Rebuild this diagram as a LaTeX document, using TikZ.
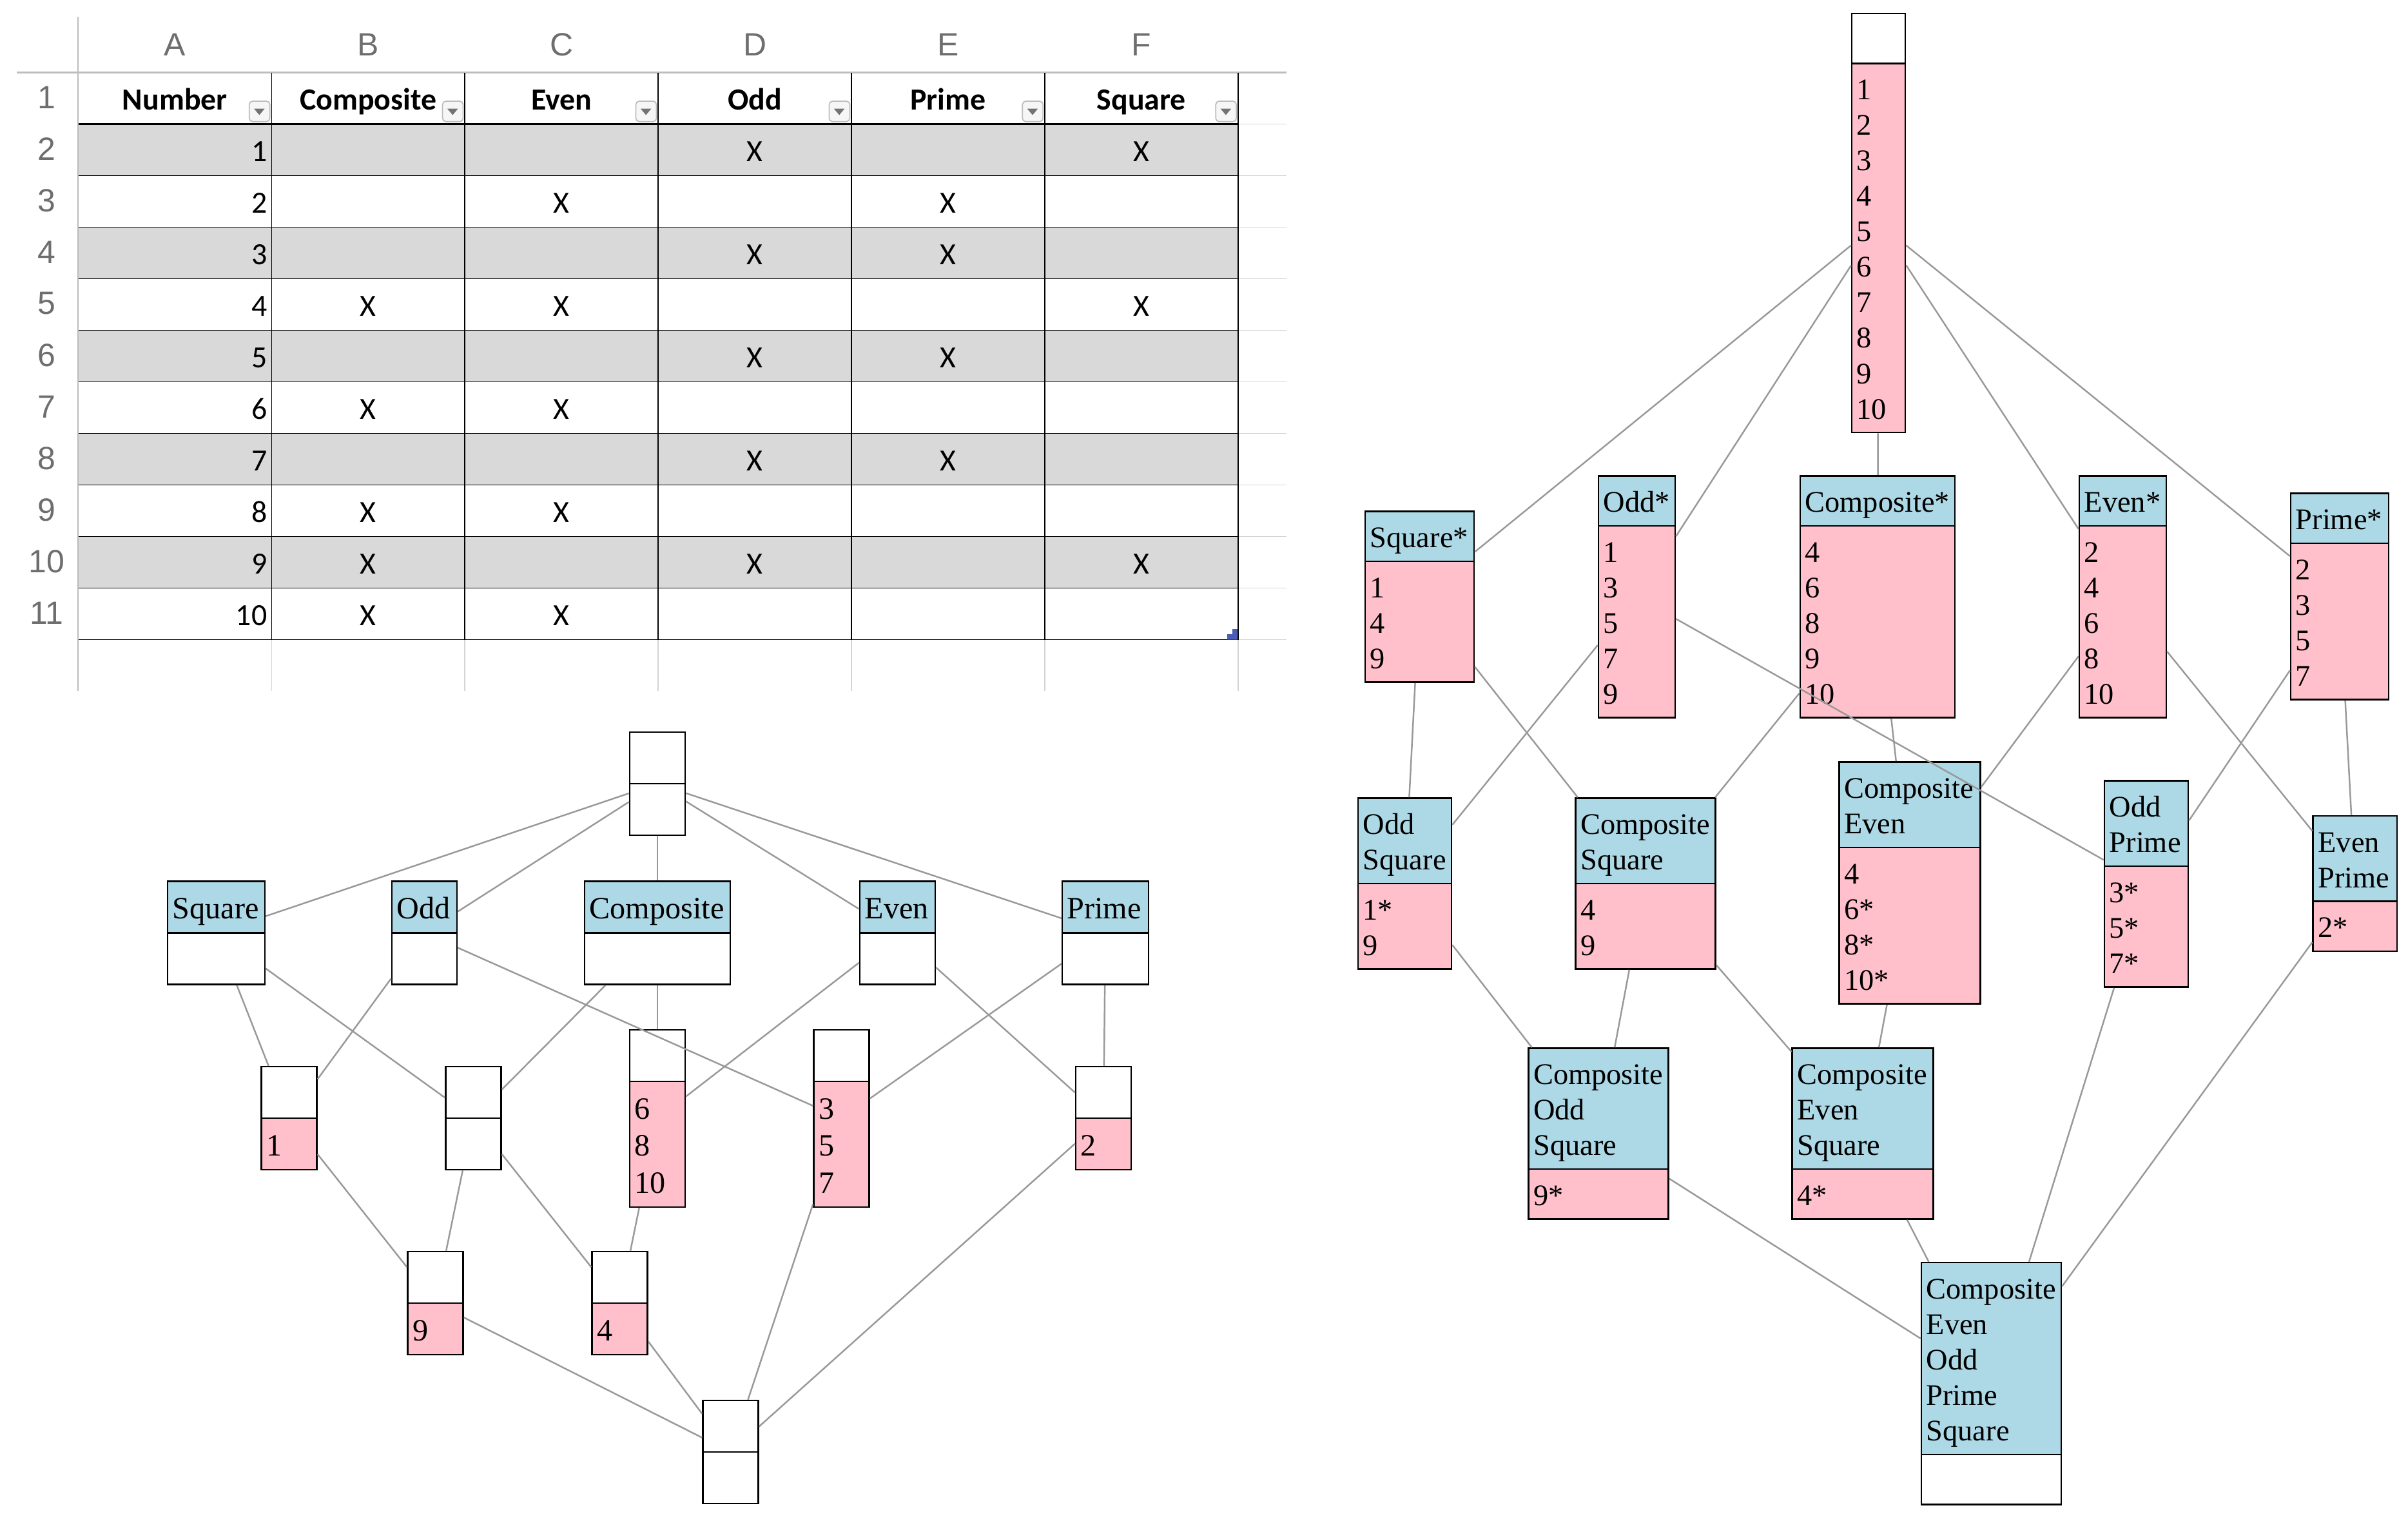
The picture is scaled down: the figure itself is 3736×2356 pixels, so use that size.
\documentclass[tikz,border=0pt]{standalone}
\usepackage{fontspec}
\setmainfont{Liberation Serif}
\newfontfamily\calibri{Carlito}
\newfontfamily\helv{Liberation Sans}
\usetikzlibrary{shapes.multipart}

\definecolor{hdrblue}{HTML}{ADD8E6}
\definecolor{bodypink}{HTML}{FFC0CB}
\definecolor{edgegray}{HTML}{999999}
\definecolor{rowgray}{HTML}{D9D9D9}
\definecolor{gridgray}{HTML}{D4D4D4}
\definecolor{headgray}{HTML}{BDBDBD}
\definecolor{labelgray}{HTML}{6E6E6E}
\definecolor{markblue}{HTML}{4A5CB4}

\newcommand\cells[1]{{\setbox\strutbox\hbox{\vrule height .82\baselineskip depth .18\baselineskip width 0pt}%
  \begin{tabular}{@{}l@{}}\strut#1\end{tabular}}}

\tikzset{
  lattice/.style={rectangle split, rectangle split parts=2, draw, line width=0.7pt,
    inner xsep=2.2pt, inner ysep=2.85pt, rectangle split part align={left,left},
    minimum width=0.86cm},
  lsize/.style={font=\fontsize{13.7}{16.36}\selectfont},
  rsize/.style={font=\fontsize{13.2}{15.65}\selectfont},
  bluepink/.style={rectangle split part fill={hdrblue,bodypink}},
  bluewhite/.style={rectangle split part fill={hdrblue,white}},
  whitepink/.style={rectangle split part fill={white,bodypink}},
  whitewhite/.style={rectangle split part fill={white,white}},
  link/.style={edgegray, line width=0.7pt},
  collabel/.style={text=labelgray, font=\helv\fontsize{14.2}{16}\selectfont, inner sep=0pt},
  hdr/.style={font=\calibri\bfseries\fontsize{13.6}{16}\selectfont, inner sep=0pt},
  cell/.style={font=\calibri\fontsize{13.6}{16}\selectfont, inner sep=0pt},
  btn/.style={draw=headgray, fill=gray!7, line width=0.5pt, rounded corners=1.5pt},
}

\begin{document}
\begin{tikzpicture}[x=0.01cm,y=-0.01cm]
\useasboundingbox (0,0) rectangle (3736,2356);

\fill[rowgray] foreach \r in {1,3,5,7,9} {(121.5,{112.5+80*\r}) rectangle (1920.9,{192.5+80*\r})};
\draw[gridgray, line width=0.5pt] foreach \j in {1,...,11} {(1920.9,{112.5+80*\j}) -- (1996,{112.5+80*\j})};
\draw[gridgray, line width=0.5pt] foreach \i in {1,...,6} {({121.5+299.9*\i},992.5) -- ({121.5+299.9*\i},1072)};
\draw[headgray, line width=0.6pt] (26,112.5) -- (1996,112.5);
\draw[headgray, line width=0.6pt] (121,26) -- (121,1072);
\draw[line width=0.5pt] foreach \j in {2,...,11} {(121.5,{112.5+80*\j}) -- (1920.9,{112.5+80*\j})};
\draw[line width=0.5pt] foreach \i in {1,...,6} {({121.5+299.9*\i},112.5) -- ({121.5+299.9*\i},992.5)};
\draw[line width=1pt] (121.5,192.5) -- (1920.9,192.5);
\fill[markblue] (1904,992.5) -- (1904,984) -- (1912,984) -- (1912,976) -- (1920,976) -- (1920,992.5) -- cycle;

\foreach \c [count=\i from 0] in {A,B,C,D,E,F}
  \node[collabel] (col\c) at ({271.4+299.9*\i},69.5) {\c};
\foreach \r in {1,...,11}
  \node[collabel] (row\r) at (72.5,{151+80*(\r-1)}) {\r};
\foreach \h [count=\i from 0] in {Number,Composite,Even,Odd,Prime,Square}
  \node[hdr, anchor=base] (head\i) at ({271.4+299.9*\i},170) {\h};
\foreach \i in {1,...,6} {
  \draw[btn] ({121.5+299.9*\i-34.7},157) rectangle ({121.5+299.9*\i-2.7},188.7);
  \fill[gray!110] ({121.5+299.9*\i-27.4},168.5) -- ({121.5+299.9*\i-10.7},168.5) -- ({121.5+299.9*\i-19},178.5) -- cycle;
}
\foreach \n in {1,...,10}
  \node[cell, anchor=base east] (num\n) at (415,{170+80*\n}) {\n};
\foreach \c/\n in {1/4,1/6,1/8,1/9,1/10,2/2,2/4,2/6,2/8,2/10,3/1,3/3,3/5,3/7,3/9,4/2,4/3,4/5,4/7,5/1,5/4,5/9}
  \node[cell, anchor=base] (mark\c-\n) at ({271.4+299.9*\c},{170+80*\n}) {X};

\node[lattice, lsize, whitewhite] (ltop) at (1020,1216) {\cells{}\nodepart{two}\cells{}};
\node[lattice, lsize, bluewhite, minimum width=1.51cm] (lsq) at (335.5,1447.5) {\cells{Square}\nodepart{two}\cells{}};
\node[lattice, lsize, bluewhite, minimum width=1.01cm] (lodd) at (658.5,1447.5) {\cells{Odd}\nodepart{two}\cells{}};
\node[lattice, lsize, bluewhite, minimum width=2.26cm] (lcomp) at (1020,1447.5) {\cells{Composite}\nodepart{two}\cells{}};
\node[lattice, lsize, bluewhite, minimum width=1.17cm] (leven) at (1392.5,1447.5) {\cells{Even}\nodepart{two}\cells{}};
\node[lattice, lsize, bluewhite, minimum width=1.34cm] (lprime) at (1715,1447.5) {\cells{Prime}\nodepart{two}\cells{}};
\node[lattice, lsize, whitepink] (lone) at (448.5,1735) {\cells{}\nodepart{two}\cells{1}};
\node[lattice, lsize, whitewhite] (lcs) at (734.5,1735) {\cells{}\nodepart{two}\cells{}};
\node[lattice, lsize, whitepink] (lce) at (1020,1735.5) {\cells{}\nodepart{two}\cells{6\\8\\10}};
\node[lattice, lsize, whitepink] (lop) at (1305.5,1735.5) {\cells{}\nodepart{two}\cells{3\\5\\7}};
\node[lattice, lsize, whitepink] (ltwo) at (1712,1735) {\cells{}\nodepart{two}\cells{2}};
\node[lattice, lsize, whitepink] (lnine) at (675.5,2022) {\cells{}\nodepart{two}\cells{9}};
\node[lattice, lsize, whitepink] (lfour) at (961.5,2022) {\cells{}\nodepart{two}\cells{4}};
\node[lattice, lsize, whitewhite] (lbot) at (1133.5,2253) {\cells{}\nodepart{two}\cells{}};

\foreach \a/\b in {ltop/lsq,ltop/lodd,ltop/lcomp,ltop/leven,ltop/lprime,
    lsq/lone,lsq/lcs,lodd/lone,lodd/lop,lcomp/lcs,lcomp/lce,leven/lce,leven/ltwo,
    lprime/lop,lprime/ltwo,lone/lnine,lcs/lnine,lcs/lfour,lce/lfour,
    lnine/lbot,lfour/lbot,lop/lbot,ltwo/lbot}
  \draw[link] (\a) -- (\b);

\node[lattice, rsize, whitepink, minimum width=0.83cm] (rtop) at (2914.5,346) {\cells{}\nodepart{two}\cells{1\\2\\3\\4\\5\\6\\7\\8\\9\\10}};
\node[lattice, rsize, bluepink, minimum width=1.69cm] (rsq) at (2202.5,926) {\cells{Square*}\nodepart{two}\cells{1\\4\\9}};
\node[lattice, rsize, bluepink, minimum width=1.19cm] (rodd) at (2539.5,926) {\cells{Odd*}\nodepart{two}\cells{1\\3\\5\\7\\9}};
\node[lattice, rsize, bluepink, minimum width=2.40cm] (rcomp) at (2913,926) {\cells{Composite*}\nodepart{two}\cells{4\\6\\8\\9\\10}};
\node[lattice, rsize, bluepink, minimum width=1.35cm] (reven) at (3293.5,926) {\cells{Even*}\nodepart{two}\cells{2\\4\\6\\8\\10}};
\node[lattice, rsize, bluepink, minimum width=1.52cm] (rprime) at (3630,925.5) {\cells{Prime*}\nodepart{two}\cells{2\\3\\5\\7}};
\node[lattice, rsize, bluepink, minimum width=1.45cm] (ros) at (2179.5,1371) {\cells{Odd\\Square}\nodepart{two}\cells{1*\\9}};
\node[lattice, rsize, bluepink, minimum width=2.17cm] (rcs) at (2553,1371) {\cells{Composite\\Square}\nodepart{two}\cells{4\\9}};
\node[lattice, rsize, bluepink, minimum width=2.19cm] (rce) at (2963,1370) {\cells{Composite\\Even}\nodepart{two}\cells{4\\6*\\8*\\10*}};
\node[lattice, rsize, bluepink, minimum width=1.30cm] (rop) at (3330,1371.5) {\cells{Odd\\Prime}\nodepart{two}\cells{3*\\5*\\7*}};
\node[lattice, rsize, bluepink, minimum width=1.30cm] (rep) at (3653.7,1371) {\cells{Even\\Prime}\nodepart{two}\cells{2*}};
\node[lattice, rsize, bluepink, minimum width=2.17cm] (rcos) at (2480,1759) {\cells{Composite\\Odd\\Square}\nodepart{two}\cells{9*}};
\node[lattice, rsize, bluepink, minimum width=2.185cm] (rces) at (2890,1759) {\cells{Composite\\Even\\Square}\nodepart{two}\cells{4*}};
\node[lattice, rsize, bluewhite, minimum width=2.17cm] (rbot) at (3089.5,2146.7) {\cells{Composite\\Even\\Odd\\Prime\\Square}\nodepart{two}\cells{}};

\foreach \a/\b in {rtop/rsq,rtop/rodd,rtop/rcomp,rtop/reven,rtop/rprime,
    rsq/ros,rsq/rcs,rodd/ros,rodd/rop,rcomp/rcs,rcomp/rce,reven/rce,reven/rep,
    rprime/rop,rprime/rep,ros/rcos,rcs/rcos,rcs/rces,rce/rces,
    rcos/rbot,rces/rbot,rop/rbot,rep/rbot}
  \draw[link] (\a) -- (\b);
\end{tikzpicture}
\end{document}
